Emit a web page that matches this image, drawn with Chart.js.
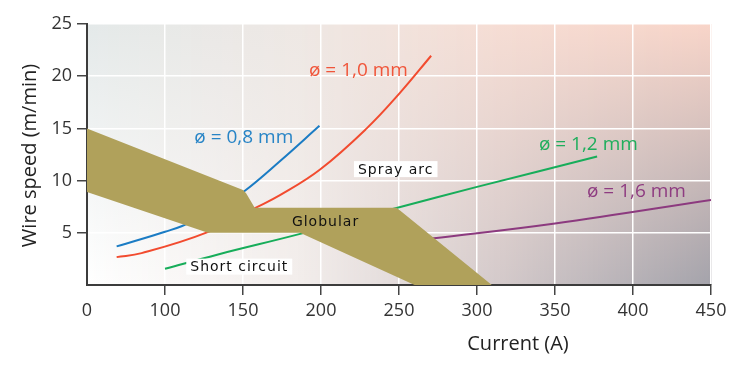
<!DOCTYPE html>
<html>
<head>
<meta charset="utf-8">
<script src="https://cdn.jsdelivr.net/npm/chart.js@4.4.0/dist/chart.umd.min.js"></script>
<style>
    body { margin: 0; background: #ffffff; }
</style>
</head>
<body>
<canvas id="grafica" width="738" height="374"></canvas>
<script>
// Eje X: el primer tick se rotula "0" en la figura original
let ticksX = [50, 100, 150, 200, 250, 300, 350, 400, 450];
let etiquetasX = ["0", "100", "150", "200", "250", "300", "350", "400", "450"];
let ticksY = [5, 10, 15, 20, 25];

// Curvas de velocidad de alambre por diametro
let corriente08 = [69, 85, 100, 111, 130, 151, 174, 199];
let velocidad08 = [3.7, 4.4, 5.1, 5.65, 6.9, 9.0, 11.9, 15.25];

let corriente10 = [69, 85, 126.5, 158.3, 173.7, 199.4, 229.3, 250.6, 270.6];
let velocidad10 = [2.67, 3.05, 5.01, 7.41, 8.6, 11.06, 15.0, 18.4, 21.96];

let corriente12 = [100, 134, 186, 249, 300, 377];
let velocidad12 = [1.55, 2.93, 4.87, 7.4, 9.4, 12.3];

let corriente16 = [271, 350, 450];
let velocidad16 = [4.45, 5.9, 8.15];

// Zona globular (contorno cerrado)
let corrienteGlobular = [50, 150, 152, 157.5, 248.5, 309.5, 260, 186.5, 127.5, 50, 50];
let velocidadGlobular = [15, 9.1, 8.8, 7.4, 7.4, 0, 0, 5.0, 5.0, 8.9, 15];

let nombresSeries = ["ø = 0,8 mm", "ø = 1,0 mm", "ø = 1,2 mm", "ø = 1,6 mm"];
let nombresZonas = ["Spray arc", "Globular", "Short circuit"];

let colores = ["#1b7cc4", "#f24b2f", "#17ad5a", "#8c3a7f"];
let colorGlobular = "#b0a15b";

// donde va cada rotulo (en unidades de los ejes)
let rotulos = [
    { texto: nombresSeries[0], x: 150.5, y: 14.2, color: "#2784c6", caja: false },
    { texto: nombresSeries[1], x: 224, y: 20.65, color: "#f0553a", caja: false },
    { texto: nombresSeries[2], x: 371.4, y: 13.55, color: "#1fae5c", caja: false },
    { texto: nombresSeries[3], x: 402.2, y: 9.07, color: "#8e3c81", caja: false },
    { texto: nombresZonas[0], x: 247.9, y: 11.1, color: "#111", caja: true },
    { texto: nombresZonas[1], x: 202.9, y: 6.09, color: "#111", caja: false },
    { texto: nombresZonas[2], x: 147.6, y: 1.76, color: "#111", caja: true }
];

let fondoArriba = ["#e4e9e9", "#eee8e4", "#f6ddd4", "#f8d5c9"];
let fondoAbajo = ["#ffffff", "#f3eeec", "#d3c9ca", "#a4a3ab"];

function puntos(xs, ys) {
    let lista = [];
    for (let i = 0; i < xs.length; i++) {
        lista.push({ x: xs[i], y: ys[i] });
    }
    return lista;
}

function hexARgb(hex) {
    return [parseInt(hex.substr(1, 2), 16), parseInt(hex.substr(3, 2), 16), parseInt(hex.substr(5, 2), 16)];
}

function mezcla(paleta, t) {
    let n = paleta.length - 1;
    let i = Math.min(Math.floor(t * n), n - 1);
    let f = t * n - i;
    let a = hexARgb(paleta[i]);
    let b = hexARgb(paleta[i + 1]);
    let c = [0, 1, 2].map(k => Math.round(a[k] + (b[k] - a[k]) * f));
    return "rgb(" + c.join(",") + ")";
}

const pluginFondo = {
    id: "fondo",
    beforeDraw(chart) {
        const ctx = chart.ctx;
        const a = chart.chartArea;
        const ancho = a.right - a.left;
        ctx.save();
        for (let i = 0; i < ancho; i++) {
            let t = i / (ancho - 1);
            let g = ctx.createLinearGradient(0, a.top, 0, a.bottom);
            g.addColorStop(0, mezcla(fondoArriba, t));
            g.addColorStop(1, mezcla(fondoAbajo, t));
            ctx.fillStyle = g;
            ctx.fillRect(a.left + i, a.top, 1.5, a.bottom - a.top);
        }
        ctx.restore();
    }
};

const pluginRotulos = {
    id: "rotulos",
    afterDatasetsDraw(chart) {
        const ctx = chart.ctx;
        const sx = chart.scales.x;
        const sy = chart.scales.y;
        ctx.save();
        ctx.textAlign = "center";
        ctx.textBaseline = "middle";
        for (let r of rotulos) {
            let px = sx.getPixelForValue(r.x);
            let py = sy.getPixelForValue(r.y);
            if (r.caja || r.texto == nombresZonas[1]) {
                ctx.font = "14px 'DejaVu Sans'";
                ctx.letterSpacing = "1px";
            } else {
                ctx.font = "19px 'Open Sans'";
                ctx.letterSpacing = "0px";
            }
            if (r.caja) {
                let w = ctx.measureText(r.texto).width + 8;
                ctx.fillStyle = "#ffffff";
                ctx.fillRect(px - w / 2, py - 8, w, 16);
            }
            ctx.fillStyle = r.color;
            ctx.fillText(r.texto, px, py + 1);
        }
        ctx.letterSpacing = "0px";

        // titulos de los ejes
        ctx.font = "20px 'Open Sans'";
        ctx.fillStyle = "#222";
        ctx.fillText("Current (A)", 518, 344);
        ctx.translate(30, 155.5);
        ctx.rotate(-Math.PI / 2);
        ctx.fillText("Wire speed (m/min)", 0, 0);
        ctx.restore();
    }
};

function serie(xs, ys, color) {
    return {
        data: puntos(xs, ys),
        showLine: true,
        borderColor: color,
        borderWidth: 2,
        pointRadius: 0,
        fill: false,
        tension: 0.4
    };
}

const fuenteTicks = { family: "'Open Sans'", size: 18 };

const ctx = document.getElementById("grafica").getContext("2d");
const grafica = new Chart(ctx, {
    type: "scatter",
    data: {
        datasets: [
            {
                data: puntos(corrienteGlobular, velocidadGlobular),
                showLine: true,
                borderWidth: 0,
                borderColor: colorGlobular,
                backgroundColor: colorGlobular,
                pointRadius: 0,
                tension: 0,
                fill: "shape"
            },
            serie(corriente08, velocidad08, colores[0]),
            serie(corriente10, velocidad10, colores[1]),
            serie(corriente12, velocidad12, colores[2]),
            serie(corriente16, velocidad16, colores[3])
        ]
    },
    options: {
        responsive: false,
        animation: false,
        devicePixelRatio: 1,
        layout: { padding: { top: 24, right: 27, left: 0, bottom: 0 } },
        plugins: {
            legend: { display: false },
            tooltip: { enabled: false }
        },
        scales: {
            x: {
                type: "linear",
                min: 50,
                max: 450,
                afterBuildTicks: function (s) {
                    s.ticks = ticksX.map(v => ({ value: v }));
                },
                afterFit: function (s) { s.height = 89; },
                ticks: {
                    callback: function (v) { return etiquetasX[ticksX.indexOf(v)]; },
                    font: fuenteTicks,
                    color: "#333",
                    padding: 5,
                    maxRotation: 0,
                    autoSkip: false
                },
                grid: {
                    color: "#ffffff",
                    lineWidth: 1.5,
                    tickColor: c => (c.tick && c.tick.value == 50) ? "rgba(0,0,0,0)" : "#444",
                    tickLength: 10,
                    tickWidth: 1.5
                },
                border: { color: "#3c3c3c", width: 2 }
            },
            y: {
                min: 0,
                max: 25,
                afterBuildTicks: function (s) {
                    s.ticks = ticksY.map(v => ({ value: v }));
                },
                afterFit: function (s) { s.width = 87; },
                ticks: {
                    font: fuenteTicks,
                    color: "#333",
                    padding: 5
                },
                grid: {
                    color: "#ffffff",
                    lineWidth: 1.5,
                    tickColor: "#444",
                    tickLength: 10,
                    tickWidth: 1.5
                },
                border: { color: "#3c3c3c", width: 2 }
            }
        }
    },
    plugins: [pluginFondo, pluginRotulos]
});
</script>
</body>
</html>
